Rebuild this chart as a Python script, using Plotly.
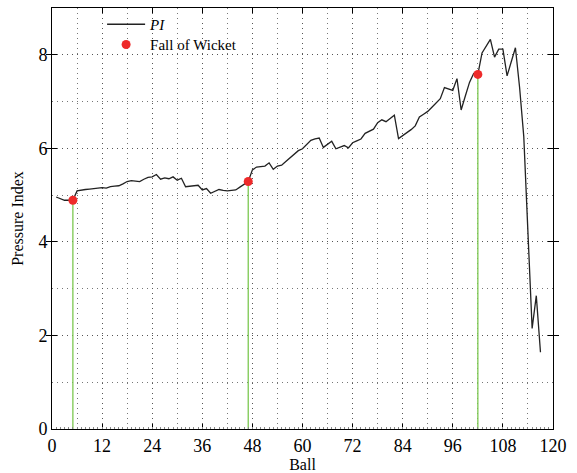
import plotly.graph_objects as go

balls = list(range(1, 118))
pressure_index = [
    4.96, 4.93, 4.89, 4.89, 4.89, 5.09, 5.11, 5.12, 5.13, 5.14,
    5.15, 5.16, 5.15, 5.18, 5.19, 5.20, 5.24, 5.29, 5.31, 5.30,
    5.29, 5.34, 5.38, 5.39, 5.44, 5.34, 5.37, 5.35, 5.39, 5.32,
    5.36, 5.18, 5.19, 5.20, 5.21, 5.11, 5.14, 5.04, 5.08, 5.12,
    5.10, 5.09, 5.10, 5.11, 5.17, 5.23, 5.29, 5.54, 5.60, 5.61,
    5.62, 5.69, 5.55, 5.62, 5.64, 5.72, 5.80, 5.88, 5.95, 5.99,
    6.08, 6.17, 6.20, 6.22, 6.02, 6.08, 6.15, 5.99, 6.03, 6.06,
    6.01, 6.12, 6.16, 6.20, 6.32, 6.37, 6.41, 6.55, 6.61, 6.57,
    6.64, 6.71, 6.21, 6.27, 6.33, 6.40, 6.48, 6.67, 6.73, 6.79,
    6.88, 6.97, 7.06, 7.30, 7.27, 7.24, 7.49, 6.82, 7.12, 7.41,
    7.60, 7.58, 8.04, 8.18, 8.33, 7.95, 8.12, 8.12, 7.55, 7.85,
    8.15, 7.30, 6.25, 4.20, 2.15, 2.85, 1.64,
]
wicket_balls = [5, 47, 102]
wicket_pi = [4.89, 5.29, 7.58]

x_ticks = list(range(0, 121, 12))
y_ticks = [0, 2, 4, 6, 8]

FONT = "Liberation Serif"
GREEN = "#7cc850"
RED = "#ee2a2a"
GRID_DASH = "1px,4px"

fig = go.Figure()

for b, p in zip(wicket_balls, wicket_pi):
    fig.add_trace(go.Scatter(x=[b, b], y=[0, p], mode="lines",
                             line=dict(color=GREEN, width=1.3),
                             showlegend=False, hoverinfo="skip"))

fig.add_trace(go.Scatter(x=balls, y=pressure_index, mode="lines",
                         name="<i>PI</i>", legend="legend",
                         line=dict(color="#222222", width=1.3)))

fig.add_trace(go.Scatter(x=wicket_balls, y=wicket_pi, mode="markers",
                         name="Fall of Wicket", legend="legend2",
                         marker=dict(color=RED, size=9)))

# invisible helper trace on the overlay axis for small ticks
fig.add_trace(go.Scatter(x=[0], y=[0], xaxis="x2", mode="markers",
                         marker=dict(opacity=0), showlegend=False,
                         hoverinfo="skip"))

legend_common = dict(xanchor="left", yanchor="top",
                     bgcolor="rgba(255,255,255,0)", borderwidth=0,
                     font=dict(family=FONT, size=15), itemwidth=38)

fig.update_layout(
    width=577, height=473,
    margin=dict(l=52, r=24, t=8, b=44, autoexpand=False),
    paper_bgcolor="white", plot_bgcolor="white",
    font=dict(family=FONT, color="black", size=17),
    showlegend=True,
    legend=dict(x=0.1, y=1.0, **legend_common),
    legend2=dict(x=0.1, y=0.952, **legend_common),
    xaxis=dict(
        range=[0, 120], tickvals=x_ticks, ticktext=[str(v) for v in x_ticks],
        ticks="inside", ticklen=5, tickcolor="black",
        mirror="allticks", showline=True, linecolor="black", linewidth=1,
        showgrid=True, gridcolor="#555555", griddash=GRID_DASH, gridwidth=1,
        minor=dict(dtick=6, tick0=0, showgrid=True, gridcolor="#777777",
                   griddash=GRID_DASH, ticks=""),
        zeroline=False, automargin=False,
        title=dict(text="Ball", font=dict(family=FONT, size=16), standoff=2),
        tickfont=dict(family=FONT, size=18),
    ),
    xaxis2=dict(
        overlaying="x", range=[0, 120], dtick=1, tick0=0,
        ticks="inside", ticklen=2, tickcolor="#888888",
        showticklabels=False, showgrid=False, zeroline=False,
        showline=False, side="bottom", anchor="y", automargin=False,
    ),
    yaxis=dict(
        range=[0, 9], tickvals=y_ticks, ticktext=[str(v) for v in y_ticks],
        ticks="inside", ticklen=5, tickcolor="black",
        mirror="allticks", showline=True, linecolor="black", linewidth=1,
        showgrid=True, gridcolor="#555555", griddash=GRID_DASH, gridwidth=1,
        minor=dict(dtick=1, tick0=0, showgrid=True, gridcolor="#777777",
                   griddash=GRID_DASH, ticks=""),
        zeroline=False, automargin=False,
        title=dict(text="Pressure Index", font=dict(family=FONT, size=16),
                   standoff=10),
        tickfont=dict(family=FONT, size=18),
    ),
)

fig.write_html("out.html")
